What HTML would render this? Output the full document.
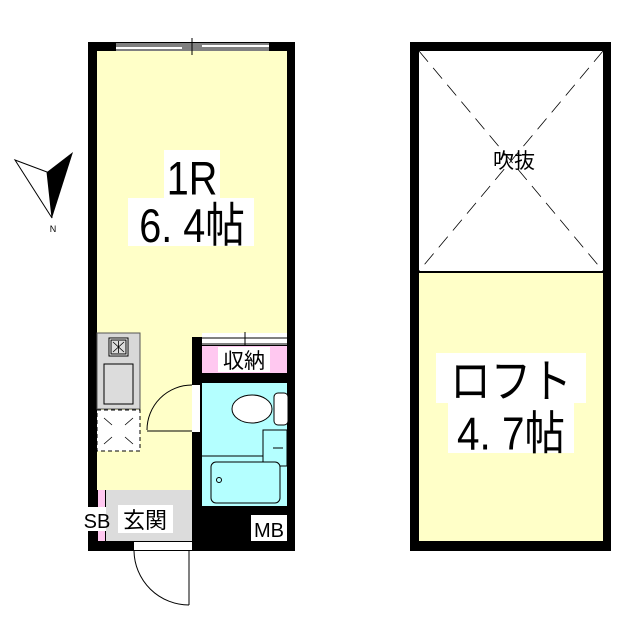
<!DOCTYPE html>
<html><head><meta charset="utf-8"><style>
body{margin:0;background:#fff}
svg{display:block}
text{font-family:"Liberation Sans","Noto Sans CJK JP",sans-serif}
</style></head><body>
<svg width="640" height="640" viewBox="0 0 640 640" xmlns="http://www.w3.org/2000/svg">
<!-- left unit -->
<rect x="88" y="42" width="207" height="509" fill="#000"/>
<rect x="97" y="51" width="190" height="439" fill="#ffffc8"/>
<!-- window top -->
<rect x="116" y="43" width="153" height="8" fill="#fff"/>
<line x1="116" y1="44" x2="269" y2="44" stroke="#000" stroke-width="1"/>
<line x1="116" y1="50" x2="269" y2="50" stroke="#000" stroke-width="1"/>
<line x1="116" y1="46" x2="202" y2="46" stroke="#000" stroke-width="1"/>
<line x1="182" y1="48" x2="269" y2="48" stroke="#000" stroke-width="1"/>
<line x1="192" y1="38" x2="192" y2="55" stroke="#000" stroke-width="1"/>
<!-- inner wall / right block -->
<rect x="192" y="337" width="95" height="214" fill="#000"/>
<rect x="202" y="333" width="85" height="12" fill="#fff"/>
<line x1="202" y1="338" x2="287" y2="338" stroke="#000"/>
<line x1="202" y1="344" x2="287" y2="344" stroke="#000"/>
<line x1="245" y1="332" x2="245" y2="346" stroke="#000"/>
<rect x="202" y="346" width="85" height="27" fill="#ffc8f0"/>
<rect x="218" y="347" width="52" height="25" fill="#fff"/>
<text x="244" y="368" font-size="21" text-anchor="middle">収納</text>
<rect x="202" y="383" width="85" height="123" fill="#b4ffff"/>
<ellipse cx="252" cy="409" rx="20" ry="14" fill="#fff" stroke="#000"/>
<rect x="274" y="393" width="14" height="32" rx="4" fill="#fff" stroke="#000"/>
<rect x="263" y="430" width="24" height="36" fill="#b4ffff" stroke="#000"/>
<line x1="273" y1="448" x2="283" y2="448" stroke="#000"/>
<line x1="202" y1="456" x2="263" y2="456" stroke="#000"/>
<rect x="211" y="462" width="69" height="41" rx="5" fill="#b4ffff" stroke="#000"/>
<circle cx="219" cy="480" r="2.5" fill="none" stroke="#000"/>
<!-- bath door -->
<rect x="192" y="385" width="8" height="47" fill="#fff"/>
<path d="M147,430 A45,45 0 0 1 192,385" fill="none" stroke="#000"/>
<line x1="147" y1="431" x2="192" y2="431" stroke="#000"/>
<!-- MB -->
<rect x="251" y="515" width="36" height="26" fill="#fff"/>
<text x="269" y="537" font-size="20" text-anchor="middle">MB</text>
<!-- kitchen -->
<rect x="97" y="333" width="43" height="76" fill="#d8d8d8" stroke="#555"/>
<rect x="109" y="338" width="19" height="18" fill="#fff" stroke="#000"/>
<rect x="111" y="340" width="15" height="14" fill="#ddd" stroke="#000"/>
<path d="M113,342 L124,352 M124,342 L113,352 M118.5,341 L118.5,353" stroke="#000" stroke-width=".8"/>
<rect x="104" y="364" width="29" height="40" fill="#dcdcdc" stroke="#000"/>
<rect x="97" y="410" width="43" height="41" fill="#fff" stroke="#000" stroke-dasharray="4,3"/>
<path d="M104,418 L112,425 M133,418 L125,425 M104,444 L112,437 M133,444 L125,437" stroke="#000" stroke-width=".8"/>
<!-- genkan -->
<rect x="97" y="490" width="95" height="52" fill="#000"/>
<rect x="106" y="490" width="86" height="51" fill="#dcdcdc"/>
<rect x="98" y="490" width="7" height="51" fill="#ffc8f0"/>
<rect x="118" y="505" width="55" height="28" fill="#fff"/>
<text x="145" y="528" font-size="22" text-anchor="middle">玄関</text>
<rect x="82" y="507" width="24" height="24" fill="#fff"/>
<text x="97" y="528" font-size="20" text-anchor="middle">SB</text>
<rect x="134" y="542" width="58" height="8" fill="#fff"/>
<line x1="189" y1="550" x2="189" y2="605" stroke="#000"/>
<path d="M134,551 A55,55 0 0 0 189,605" fill="none" stroke="#000"/>
<!-- 1R label -->
<rect x="164" y="150" width="56" height="48" fill="#fff"/>
<rect x="128" y="198" width="126" height="48" fill="#fff"/>
<g transform="translate(192,0) scale(0.9,1.08)">
<text x="0" y="180" font-size="44" text-anchor="middle">1R</text>
<text x="0" y="224" font-size="44" text-anchor="middle">6. 4帖</text>
</g>
<!-- compass -->
<polygon points="15,160 47,172 52,218" fill="#fff" stroke="#000"/>
<polygon points="47,172 73,152 52,218" fill="#000"/>
<text x="53" y="232" font-size="9" text-anchor="middle">N</text>
<!-- right unit -->
<rect x="410" y="42" width="201" height="509" fill="#000"/>
<rect x="419" y="51" width="184" height="220" fill="#fff"/>
<rect x="419" y="273" width="184" height="268" fill="#ffffc8"/>
<path d="M419,51 L603,271 M603,51 L419,271" stroke="#000" stroke-width=".8" stroke-dasharray="14,8"/>
<text x="514" y="168" font-size="21" text-anchor="middle">吹抜</text>
<rect x="436" y="353" width="150" height="50" fill="#fff"/>
<rect x="448" y="403" width="126" height="50" fill="#fff"/>
<g transform="translate(511,0) scale(0.92,1.06)">
<text x="0" y="375" font-size="44" text-anchor="middle">ロフト</text>
<text x="0" y="424" font-size="44" text-anchor="middle">4. 7帖</text>
</g>
</svg>
</body></html>
